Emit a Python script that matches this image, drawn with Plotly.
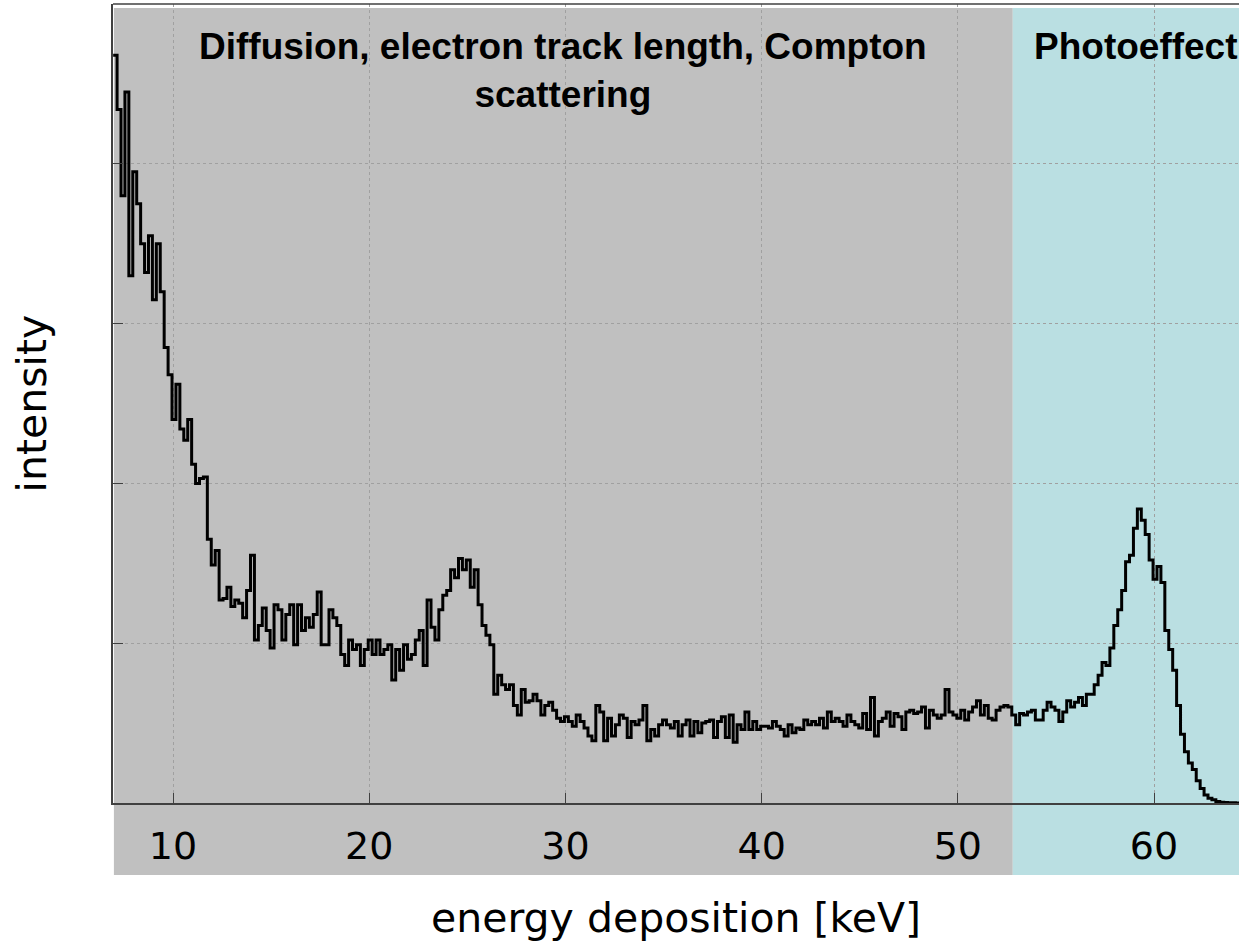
import numpy as np
import plotly.graph_objects as go

# Spectrum histogram: bins of 0.2 keV starting at 6.95 keV
BIN_START = 6.95
BIN_WIDTH = 0.2
counts = [
    4.68, 4.34, 3.80, 4.45, 3.30, 3.95, 3.75, 3.50, 3.32, 3.55,
    3.15, 3.50, 3.20, 2.85, 2.68, 2.40, 2.62, 2.34, 2.27, 2.40,
    2.12, 2.00, 2.03, 2.04, 1.65, 1.49, 1.58, 1.27, 1.28, 1.35,
    1.23, 1.27, 1.25, 1.16, 1.33, 1.55, 1.02, 1.11, 1.22, 1.08,
    0.97, 1.24, 1.21, 1.02, 1.18, 1.24, 0.99, 1.24, 1.08, 1.16,
    1.10, 1.18, 1.32, 0.99, 0.99, 1.21, 1.16, 1.11, 0.93, 0.86,
    1.02, 0.96, 0.99, 0.86, 0.96, 1.02, 0.93, 1.02, 0.93, 0.96,
    0.99, 0.77, 0.96, 0.83, 0.99, 0.90, 0.93, 1.02, 1.08, 0.86,
    1.27, 1.10, 1.02, 1.21, 1.30, 1.33, 1.46, 1.41, 1.53, 1.46,
    1.52, 1.35, 1.46, 1.24, 1.11, 1.05, 0.99, 0.68, 0.80, 0.74,
    0.71, 0.74, 0.61, 0.55, 0.71, 0.63, 0.64, 0.68, 0.64, 0.55,
    0.61, 0.63, 0.58, 0.53, 0.51, 0.54, 0.51, 0.48, 0.55, 0.51,
    0.47, 0.42, 0.39, 0.61, 0.57, 0.39, 0.53, 0.42, 0.49, 0.55,
    0.53, 0.41, 0.51, 0.49, 0.52, 0.61, 0.39, 0.46, 0.42, 0.49,
    0.52, 0.49, 0.47, 0.51, 0.42, 0.49, 0.52, 0.42, 0.51, 0.44,
    0.50, 0.51, 0.52, 0.41, 0.51, 0.54, 0.41, 0.55, 0.38, 0.49,
    0.46, 0.57, 0.46, 0.51, 0.46, 0.48, 0.48, 0.47, 0.51, 0.48,
    0.46, 0.42, 0.49, 0.44, 0.47, 0.46, 0.52, 0.49, 0.51, 0.49,
    0.53, 0.47, 0.57, 0.51, 0.53, 0.51, 0.48, 0.55, 0.51, 0.49,
    0.47, 0.56, 0.46, 0.66, 0.42, 0.51, 0.53, 0.57, 0.48, 0.56,
    0.54, 0.46, 0.57, 0.58, 0.56, 0.57, 0.60, 0.47, 0.58, 0.55,
    0.53, 0.55, 0.71, 0.57, 0.55, 0.53, 0.58, 0.52, 0.57, 0.60,
    0.64, 0.55, 0.61, 0.53, 0.52, 0.58, 0.60, 0.61, 0.60, 0.55,
    0.49, 0.56, 0.55, 0.57, 0.58, 0.52, 0.52, 0.58, 0.63, 0.60,
    0.58, 0.51, 0.57, 0.64, 0.60, 0.63, 0.66, 0.61, 0.68, 0.68,
    0.74, 0.80, 0.88, 0.86, 0.97, 1.11, 1.21, 1.33, 1.51, 1.55,
    1.72, 1.84, 1.77, 1.68, 1.52, 1.40, 1.48, 1.38, 1.08, 0.96,
    0.83, 0.61, 0.43, 0.32, 0.25, 0.21, 0.14, 0.09, 0.05, 0.03,
    0.02, 0.01, 0.005, 0.003, 0.002, 0.001, 0.0,
]

x_ticks = [10, 20, 30, 40, 50, 60]
region_labels = ["Diffusion, electron track length, Compton<br>scattering", "Photoeffect"]
region_split = 52.8          # keV, boundary between the two regions
x_range = [6.942, 64.33]
y_range = [0, 5]

GRAY = "#c0c0c0"
CYAN = "#badfe2"

edges = BIN_START + BIN_WIDTH * np.arange(len(counts) + 1)
y_steps = counts + [counts[-1]]

fig = go.Figure()
fig.add_trace(go.Scatter(
    x=edges, y=y_steps, mode="lines", line_shape="hv",
    line=dict(color="black", width=3), showlegend=False, hoverinfo="skip",
))

split_paper = (region_split - x_range[0]) / (x_range[1] - x_range[0])
strip_bottom = -0.09

fig.add_shape(type="rect", xref="paper", yref="paper", x0=0.0008, x1=split_paper,
              y0=strip_bottom, y1=0.995, fillcolor=GRAY, line_width=0, layer="below")
fig.add_shape(type="rect", xref="paper", yref="paper", x0=split_paper, x1=1.0,
              y0=strip_bottom, y1=0.995, fillcolor=CYAN, line_width=0, layer="below")
# top frame line
fig.add_shape(type="line", xref="paper", yref="paper", x0=0, x1=1, y0=1, y1=1,
              line=dict(color="#404040", width=1.5))

title_font = dict(family="Liberation Sans, Arial", size=37, color="black")
fig.add_annotation(x=(x_range[0] + region_split) / 2, xref="x", y=0.975, yref="paper",
                   text="<b>" + region_labels[0] + "</b>", showarrow=False,
                   xanchor="center", yanchor="top", font=title_font, align="center")
fig.add_annotation(x=53.8, xref="x", y=0.975, yref="paper",
                   text="<b>" + region_labels[1] + "</b>", showarrow=False,
                   xanchor="left", yanchor="top", font=title_font)

axis_font = dict(family="DejaVu Sans", size=41, color="black")
fig.add_annotation(x=0.5, xref="paper", y=-0.144, yref="paper",
                   text="energy deposition [keV]", showarrow=False,
                   xanchor="center", yanchor="middle", font=axis_font)
fig.add_annotation(x=-0.072, xref="paper", y=0.5, yref="paper",
                   text="intensity", showarrow=False, textangle=-90,
                   xanchor="center", yanchor="middle", font=axis_font)

fig.update_xaxes(
    range=x_range, tickvals=x_ticks, ticktext=[str(v) for v in x_ticks],
    showgrid=True, gridcolor="#a0a0a0", griddash="dot", gridwidth=1,
    showline=True, linecolor="#404040", linewidth=1.5,
    ticks="inside", ticklen=10, tickcolor="#404040", tickwidth=1.2,
    tickfont=dict(family="DejaVu Sans", size=38, color="black"),
    ticklabelstandoff=9, zeroline=False,
)
fig.update_yaxes(
    range=y_range, dtick=1, showticklabels=False,
    showgrid=True, gridcolor="#a0a0a0", griddash="dot", gridwidth=1,
    showline=True, linecolor="#404040", linewidth=1.5,
    ticks="inside", ticklen=10, tickcolor="#404040", tickwidth=1.2,
    zeroline=False,
)

fig.update_layout(
    width=1239, height=944,
    margin=dict(l=113, r=0, t=4, b=141),
    paper_bgcolor="white", plot_bgcolor="white",
    showlegend=False,
)

fig.write_html("out.html")
